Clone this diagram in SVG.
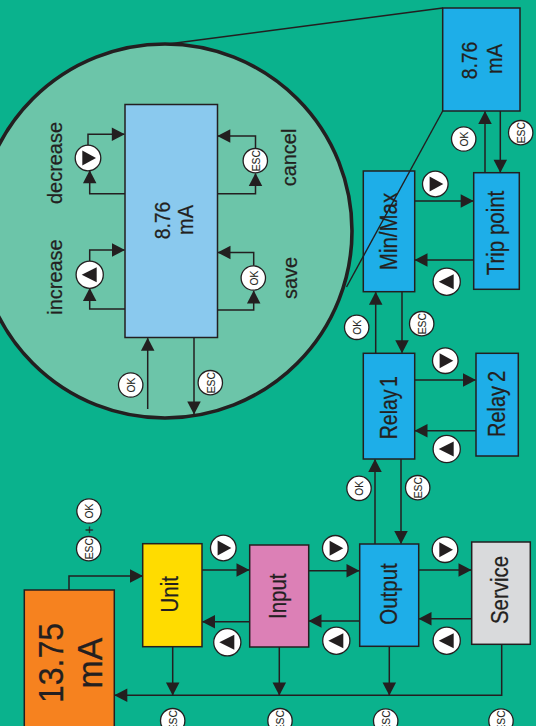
<svg xmlns="http://www.w3.org/2000/svg" xmlns:xlink="http://www.w3.org/1999/xlink" width="536" height="726" viewBox="0 0 536 726">
<style>
text{font-family:"Liberation Sans",Arial,sans-serif;fill:#231f20;text-anchor:middle;stroke:#231f20;stroke-width:.25}
.box{stroke:#231f20;stroke-width:1.5}
.blue{fill:#1eaee8}
.ln{fill:none;stroke:#231f20;stroke-width:1.5;stroke-linejoin:miter}
.a{marker-end:url(#arr)}
.btn{fill:#fff;stroke:#231f20;stroke-width:1.3}
.t10{font-size:11.800px}
.t10 text{stroke-width:.1}
.t20{font-size:23px}
.t21{font-size:21px}
.t22{font-size:22px}
.zoom{fill:none;stroke:#231f20;stroke-width:1.4}
</style>
<defs>
<marker id="arr" markerUnits="userSpaceOnUse" markerWidth="14" markerHeight="14" refX="12.5" refY="6.75" orient="auto" viewBox="0 0 14 14" overflow="visible">
<path d="M0,0L13,6.75L0,13.5z" fill="#231f20"/>
</marker>
<g id="right"><circle class="btn" r="12.8"/><path d="M-5.7,-7.5L8,0L-5.7,7.5z" fill="#231f20"/></g>
<g id="left"><circle class="btn" r="13.6"/><path d="M-8,0L7,-7.5L7,7.5z" fill="#231f20"/></g>
<g id="round"><circle class="btn" r="12.2"/></g>
</defs>
<rect width="536" height="726" fill="#0ab28d"/>
<g id="detail-circle"><circle cx="165" cy="231" r="187" fill="#6cc5a9" stroke="#231f20" stroke-width="3.600"/></g>
<g id="connectors">
<path class="ln a" d="M69,590V576H142.500"/>
<path class="ln a" d="M202,570H249"/>
<path class="ln a" d="M249.500,621.700H202.500"/>
<path class="ln a" d="M308.500,570.700H359"/>
<path class="ln a" d="M359.500,621H309"/>
<path class="ln a" d="M418.500,570H471"/>
<path class="ln a" d="M471.500,618.700H419"/>
<path class="ln a" d="M501.700,644V695.300H114.800"/>
<path class="ln a" d="M172.700,646.500V695"/>
<path class="ln a" d="M279.300,647V695"/>
<path class="ln a" d="M389.300,646V695"/>
<path class="ln a" d="M375,544V459.500"/>
<path class="ln a" d="M401,459V543.500"/>
<path class="ln a" d="M375.700,353V292.200"/>
<path class="ln a" d="M402,291.500V352.800"/>
<path class="ln a" d="M414.500,380H475.500"/>
<path class="ln a" d="M476,430.700H415"/>
<path class="ln a" d="M414.500,201H473.200"/>
<path class="ln a" d="M473.700,260H415"/>
<path class="ln a" d="M485,172.500V111.500"/>
<path class="ln a" d="M500.300,111V172.200"/>
<path class="ln a" d="M88,146V134.300H124.300"/>
<path class="ln a" d="M125,193.700H89.700V170.800"/>
<path class="ln a" d="M89.700,262V250H124.500"/>
<path class="ln a" d="M125,309H89.700V288.500"/>
<path class="ln a" d="M255.500,149V136H217.800"/>
<path class="ln a" d="M217,193.700H255.500V173.500"/>
<path class="ln a" d="M253.700,266V252.500H218"/>
<path class="ln a" d="M217,310H253.700V291"/>
<path class="ln a" d="M147.700,409V338.200"/>
<path class="ln a" d="M194,337.500V414"/>
</g>
<g id="node-value"><rect class="box" x="24.300" y="590" width="90" height="150" fill="#f6821f"/>
<text transform="translate(63 663) rotate(-90) scale(.89 1)" font-size="36">13.75</text>
<text transform="translate(101.700 663) rotate(-90) scale(.97 1)" font-size="35">mA</text></g>
<g id="node-unit"><rect class="box" x="142.700" y="543.700" width="59.300" height="103" fill="#ffdc00"/>
<text class="t20" transform="translate(178.300 594.300) rotate(-90) scale(.89 1)">Unit</text></g>
<g id="node-input"><rect class="box" x="249.700" y="545" width="59" height="102" fill="#dc80b6"/>
<text class="t20" transform="translate(286 596.300) rotate(-90) scale(.89 1)">Input</text></g>
<g id="node-output"><rect class="box blue" x="359.700" y="544" width="59" height="102.300"/>
<text class="t20" transform="translate(396.700 594) rotate(-90) scale(.89 1)">Output</text></g>
<g id="node-service"><rect class="box" x="471.700" y="542" width="58.600" height="102.300" fill="#d9dadc"/>
<text class="t20" transform="translate(508.300 590) rotate(-90) scale(.89 1)">Service</text></g>
<g id="node-relay1"><rect class="box blue" x="363.300" y="353.300" width="51.400" height="105.700"/>
<text class="t20" word-spacing="-3.500" transform="translate(396.700 407.700) rotate(-90) scale(.85 1)">Relay 1</text></g>
<g id="node-relay2"><rect class="box blue" x="476" y="353.300" width="42.300" height="102.700"/>
<text class="t20" word-spacing="-2" transform="translate(505 404) rotate(-90) scale(.87 1)">Relay 2</text></g>
<g id="node-minmax"><rect class="box blue" x="363.300" y="171" width="51.400" height="120.700"/>
<text class="t20" transform="translate(396.700 231.500) rotate(-90) scale(.89 1)">Min/Max</text></g>
<g id="node-trip"><rect class="box blue" x="473.700" y="172.700" width="45.600" height="116.600"/>
<text class="t20" transform="translate(504 233) rotate(-90) scale(.89 1)">Trip point</text></g>
<g id="node-reading"><rect class="box blue" x="442.700" y="8" width="77.300" height="103"/>
<text class="t22" transform="translate(476.700 60.500) rotate(-90) scale(.88 1)">8.76</text>
<text class="t22" transform="translate(501.700 59) rotate(-90) scale(.91 1)">mA</text></g>
<g id="zoom-lines">
<path class="zoom" d="M442.700,8L168,44"/>
<path class="zoom" d="M442.700,111L346.500,287"/>
</g>
<g id="node-detail"><rect class="box" x="125" y="104.500" width="92.500" height="233" fill="#8ac9ee"/>
<text class="t22" transform="translate(170 220.500) rotate(-90) scale(.88 1)">8.76</text>
<text class="t22" transform="translate(192.700 220) rotate(-90) scale(.91 1)">mA</text></g>
<g id="detail-labels">
<text class="t21" transform="translate(62.300 163) rotate(-90) scale(.95 1)">decrease</text>
<text class="t21" transform="translate(62.300 277) rotate(-90) scale(.95 1)">increase</text>
<text class="t21" transform="translate(296 157.500) rotate(-90) scale(.95 1)">cancel</text>
<text class="t21" transform="translate(296.700 278) rotate(-90) scale(.95 1)">save</text>
</g>
<g id="buttons">
<use xlink:href="#right" x="88" y="158"/>
<use xlink:href="#left" x="89.700" y="274.700"/>
<use xlink:href="#right" x="435.300" y="184"/>
<use xlink:href="#left" x="446.700" y="281.700"/>
<use xlink:href="#right" x="445.300" y="360.700"/>
<use xlink:href="#left" x="446.700" y="449"/>
<use xlink:href="#right" x="223.300" y="548"/>
<use xlink:href="#left" x="227.300" y="642.300"/>
<use xlink:href="#right" x="335.300" y="548.300"/>
<use xlink:href="#left" x="336.300" y="640.700"/>
<use xlink:href="#right" x="445" y="549.700"/>
<use xlink:href="#left" x="446.700" y="640.700"/>
<g id="btn-labels" class="t10">
<use xlink:href="#round" x="255.300" y="160.700"/><text transform="translate(259.500 160.700) rotate(-90) scale(.87 1)">ESC</text>
<use xlink:href="#round" x="253.300" y="278"/><text transform="translate(257.500 278) rotate(-90) scale(.87 1)">OK</text>
<use xlink:href="#round" x="130.700" y="385"/><text transform="translate(134.900 385) rotate(-90) scale(.87 1)">OK</text>
<use xlink:href="#round" x="210.300" y="382.700"/><text transform="translate(214.500 382.700) rotate(-90) scale(.87 1)">ESC</text>
<use xlink:href="#round" x="463.700" y="139"/><text transform="translate(467.900 139) rotate(-90) scale(.87 1)">OK</text>
<use xlink:href="#round" x="520.700" y="132.700"/><text transform="translate(524.900 132.700) rotate(-90) scale(.87 1)">ESC</text>
<use xlink:href="#round" x="356.700" y="327.300"/><text transform="translate(360.900 327.300) rotate(-90) scale(.87 1)">OK</text>
<use xlink:href="#round" x="421.700" y="323.700"/><text transform="translate(425.900 323.700) rotate(-90) scale(.87 1)">ESC</text>
<use xlink:href="#round" x="359" y="488.300"/><text transform="translate(363.200 488.300) rotate(-90) scale(.87 1)">OK</text>
<use xlink:href="#round" x="417.700" y="487.700"/><text transform="translate(421.900 487.700) rotate(-90) scale(.87 1)">ESC</text>
<use xlink:href="#round" x="88.700" y="548.700"/><text transform="translate(92.900 548.700) rotate(-90) scale(.87 1)">ESC</text>
<use xlink:href="#round" x="89" y="511"/><text transform="translate(93.200 511) rotate(-90) scale(.87 1)">OK</text>
<text font-size="14" transform="translate(93.700 530) rotate(-90)">+</text>
<use xlink:href="#round" x="172.700" y="720.700"/><text transform="translate(176.900 720.700) rotate(-90) scale(.87 1)">ESC</text>
<use xlink:href="#round" x="280" y="720.700"/><text transform="translate(284.200 720.700) rotate(-90) scale(.87 1)">ESC</text>
<use xlink:href="#round" x="385.700" y="721"/><text transform="translate(389.900 721) rotate(-90) scale(.87 1)">ESC</text>
<use xlink:href="#round" x="501" y="721"/><text transform="translate(505.200 721) rotate(-90) scale(.87 1)">ESC</text>
</g>
</g>
</svg>
